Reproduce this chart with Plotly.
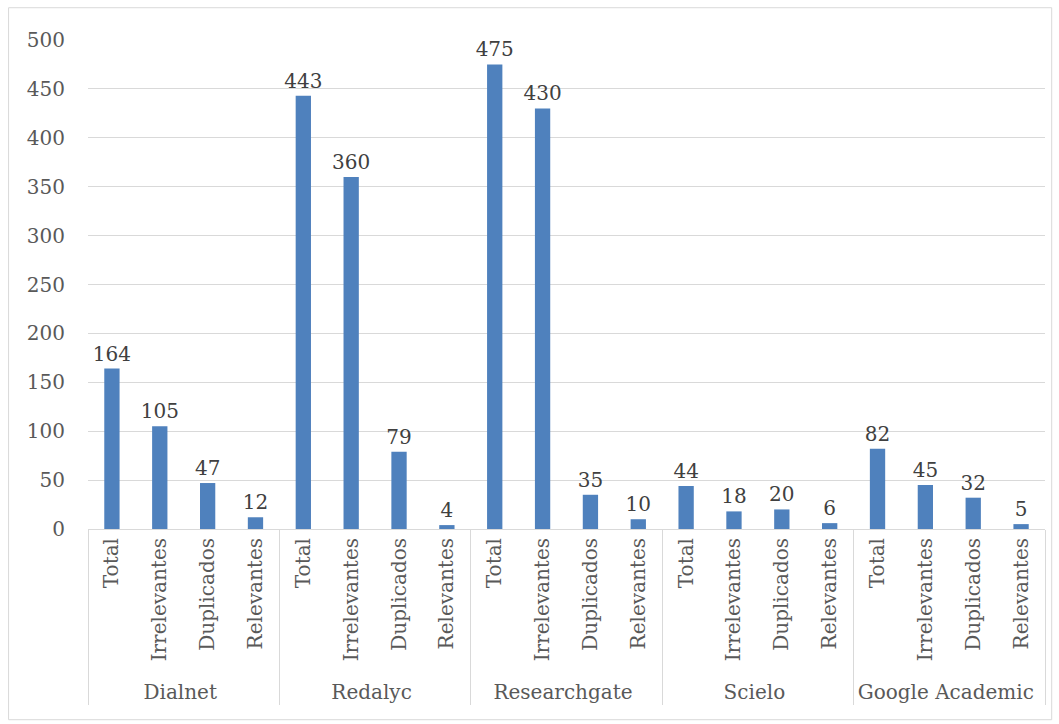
import plotly.graph_objects as go

sources = ["Dialnet", "Redalyc", "Researchgate", "Scielo", "Google Academic"]
stages = ["Total", "Irrelevantes", "Duplicados", "Relevantes"]
values = {
    "Dialnet": [164, 105, 47, 12],
    "Redalyc": [443, 360, 79, 4],
    "Researchgate": [475, 430, 35, 10],
    "Scielo": [44, 18, 20, 6],
    "Google Academic": [82, 45, 32, 5],
}
y_ticks = [0, 50, 100, 150, 200, 250, 300, 350, 400, 450, 500]

outer, inner, ys = [], [], []
for s in sources:
    for st, v in zip(stages, values[s]):
        outer.append(s)
        inner.append(st)
        ys.append(v)

FONT = "DejaVu Serif"
fig = go.Figure(go.Bar(
    x=[outer, inner], y=ys,
    marker=dict(color="#4F81BD", line=dict(width=0)),
    width=0.32,
    text=ys, textposition="outside", cliponaxis=False,
    constraintext="none",
    textfont=dict(family=FONT, size=20, color="#404040"),
))
fig.update_layout(
    width=1059, height=724,
    margin=dict(l=88, r=14, t=40, b=195),
    paper_bgcolor="white", plot_bgcolor="white",
    font=dict(family=FONT, size=20, color="#595959"),
    showlegend=False,
    bargap=0.68,
    shapes=[dict(type="rect", xref="paper", yref="paper",
                 x0=-0.083, x1=1.007, y0=-0.39, y1=1.066,
                 line=dict(color="#D9D9D9", width=1))],
)
fig.update_yaxes(range=[0, 500], tickvals=y_ticks, showgrid=True,
                 gridcolor="#D9D9D9", gridwidth=1, zeroline=False,
                 showline=False, ticks="", ticklabelstandoff=22,
                 tickfont=dict(family=FONT, size=20, color="#595959"))
fig.update_xaxes(type="multicategory", tickangle=-90, showline=True,
                 linecolor="#D9D9D9", linewidth=1, ticks="",
                 showdividers=True, dividercolor="#D9D9D9", dividerwidth=1,
                 tickfont=dict(family=FONT, size=20, color="#595959"))
fig.write_html("out.html")
